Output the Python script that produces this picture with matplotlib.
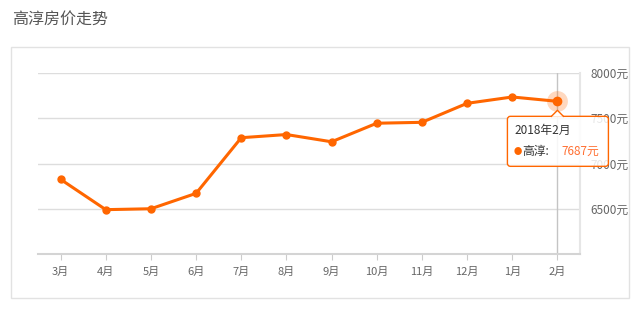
import matplotlib.pyplot as plt
from matplotlib.patches import Rectangle, FancyBboxPatch, Polygon
from matplotlib.lines import Line2D
from matplotlib.transforms import IdentityTransform

plt.rcParams['font.family'] = ['Noto Sans CJK SC', 'DejaVu Sans']

title = '高淳房价走势'
months = ['3月', '4月', '5月', '6月', '7月', '8月', '9月', '10月', '11月', '12月', '1月', '2月']
prices = [6825, 6490, 6500, 6670, 7285, 7320, 7240, 7445, 7455, 7665, 7735, 7687]
yticks = [6500, 7000, 7500, 8000]
tip_date = '2018年2月'
tip_name = '高淳'
hl = 11  # highlighted month index

orange = '#ff6600'
W, H = 640, 311

fig = plt.figure(figsize=(W / 100, H / 100), dpi=100)

# title + outer panel
fig.text(12 / W, 1 - 19 / H, title, fontsize=11.5, color='#555555', va='center', ha='left')
fig.add_artist(Rectangle((11 / W, 1 - 298 / H), 618 / W, 251 / H, transform=fig.transFigure,
                         fill=False, edgecolor='#e2e2e2', lw=1))

ax = fig.add_axes([38 / W, 1 - 254 / H, 542 / W, 181 / H])
x = list(range(len(months)))
ax.set_xlim(-0.5, len(months) - 0.5)
ax.set_ylim(6000, 8000)

ax.grid(axis='y', color='#dddddd', lw=1)
ax.set_axisbelow(True)
ax.axvline(hl, color='#c4c4c4', lw=1, zorder=1)

ax.plot(x, prices, color=orange, lw=2.2, marker='o', ms=5, zorder=3)
ax.plot(x[hl], prices[hl], 'o', color=orange, ms=15, alpha=0.25, mec='none', zorder=4)
ax.plot(x[hl], prices[hl], 'o', color=orange, ms=7, mec='none', zorder=5)

ax.set_xticks(x)
ax.set_xticklabels(months)
ax.set_yticks(yticks)
ax.set_yticklabels([f'{v}元' for v in yticks])
ax.yaxis.tick_right()
ax.tick_params(axis='y', length=0, pad=7.5, labelsize=8.5, labelcolor='#666666')
ax.tick_params(axis='x', length=4, color='#cccccc', pad=5, labelsize=8, labelcolor='#666666')
for s in ['left', 'top']:
    ax.spines[s].set_visible(False)
ax.spines['bottom'].set_color('#d4d4d4')
ax.spines['bottom'].set_linewidth(1.5)
ax.spines['right'].set_color('#e6e6e6')
ax.spines['right'].set_linewidth(1.5)

# tooltip (display pixels, anchored at highlighted point)
px, py = ax.transData.transform((x[hl], prices[hl]))
idt = IdentityTransform()
bl, br = px - 50, px + 51
bt = py - 15
bb = bt - 50
box_bg = (1, 1, 1, 0.85)
fig.add_artist(FancyBboxPatch((bl, bb), br - bl, bt - bb, boxstyle='round,pad=0,rounding_size=3',
                              transform=idt, facecolor=box_bg, edgecolor=orange, lw=1, zorder=10))
fig.add_artist(Polygon([(px - 6, bt - 0.5), (px, bt + 6), (px + 6, bt - 0.5)], closed=True,
                       transform=idt, facecolor='white', edgecolor='none', zorder=11))
fig.add_artist(Line2D([px - 6, px, px + 6], [bt, bt + 6, bt], transform=idt,
                      color=orange, lw=1, zorder=12))
fig.text(bl + 7, bt - 14, tip_date, transform=idt, fontsize=8.5, color='#333333',
         va='center', ha='left', zorder=13)
fig.text(bl + 6, bt - 35, '●', transform=idt, fontsize=6, color=orange,
         va='center', ha='left', zorder=13)
fig.text(bl + 15, bt - 35, f'{tip_name}:', transform=idt, fontsize=8.5, color='#333333',
         va='center', ha='left', zorder=13)
fig.text(bl + 54, bt - 35, f'{prices[hl]}元', transform=idt, fontsize=8.5, color='#ff7033',
         va='center', ha='left', zorder=13)

fig.savefig('out.png', dpi=100)
